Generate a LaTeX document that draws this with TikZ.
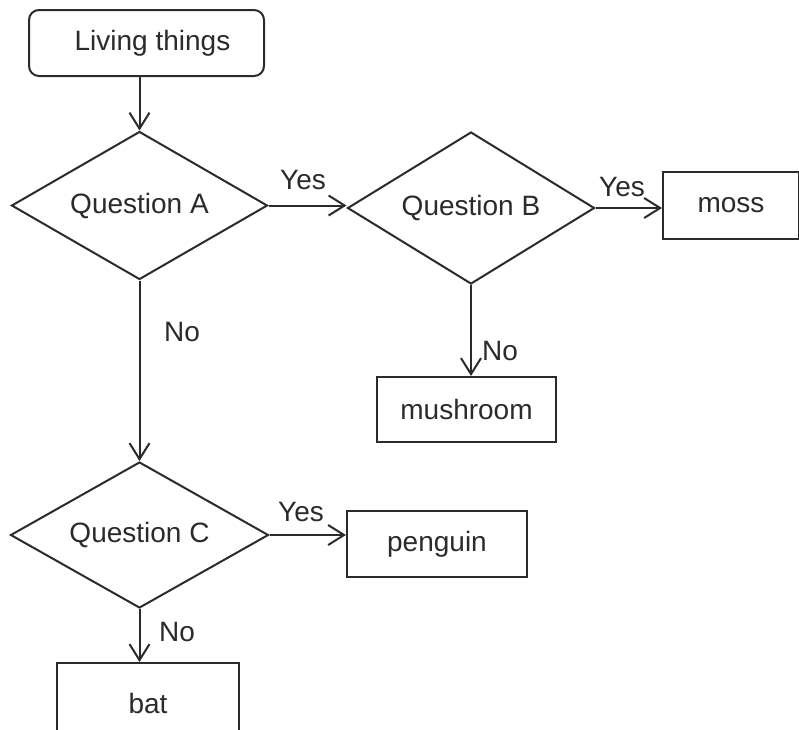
\documentclass[tikz,border=0pt]{standalone}
\usepackage{fontspec}
\setmainfont{Liberation Sans}
\usetikzlibrary{shapes.geometric,arrows.meta}
\definecolor{ink}{HTML}{2B2B2B}
\begin{document}
\begin{tikzpicture}[x=1pt,y=-1pt,
  every node/.style={font=\fontsize{28}{32}\selectfont, text=ink},
  rbox/.style={draw=ink, line width=2pt, rectangle, inner sep=0pt},
  rrbox/.style={rbox, rounded corners=10pt},
  qdiam/.style={draw=ink, line width=2pt, diamond, aspect=1.73, inner sep=0pt},
  arr/.style={draw=ink, line width=2pt, -{Straight Barb[length=16pt,width=20pt,line width=2pt]}},
  lbl/.style={inner sep=0pt}]
\clip (0,0) rectangle (799,729);
\fill[white] (0,0) rectangle (799,729);

\node[rrbox, minimum width=235pt, minimum height=66pt] (living) at (146.5,43) {\hspace*{12pt}Living things};
\node[qdiam, minimum width=256pt, minimum height=148pt] (qa) at (139.5,205.5) {Question A};
\node[qdiam, minimum width=247pt, minimum height=152pt] (qb) at (471,208) {Question B};
\node[qdiam, minimum width=258pt, minimum height=146pt] (qc) at (139.5,535) {Question C};

\node[rbox, minimum width=136pt, minimum height=67pt] (moss) at (731,205.5) {moss};
\node[rbox, minimum width=179pt, minimum height=65pt] (mush) at (466.5,409.5) {mushroom};
\node[rbox, minimum width=180pt, minimum height=66pt] (peng) at (437,544) {penguin};
\node[rbox, minimum width=182pt, minimum height=80pt] (bat) at (148,703) {bat};

\draw[arr] (qa.north |- living.south) -- (qa.north);
\draw[arr] (qa.east) -- (qa.east -| qb.west);
\draw[arr] (qb.east) -- (qb.east -| moss.west);
\draw[arr] (qb.south) -- (qb.south |- mush.north);
\draw[arr] (qa.south) -- (qc.north);
\draw[arr] (qc.east) -- (qc.east -| peng.west);
\draw[arr] (qc.south) -- (qc.south |- bat.north);

\node[lbl] (yesa) at (303,180) {Yes};
\node[lbl] (yesb) at (622,187) {Yes};
\node[lbl] (yesc) at (301,512) {Yes};
\node[lbl] (noa) at (182,332) {No};
\node[lbl] (nob) at (500,351) {No};
\node[lbl] (noc) at (177,632) {No};
\end{tikzpicture}
\end{document}
